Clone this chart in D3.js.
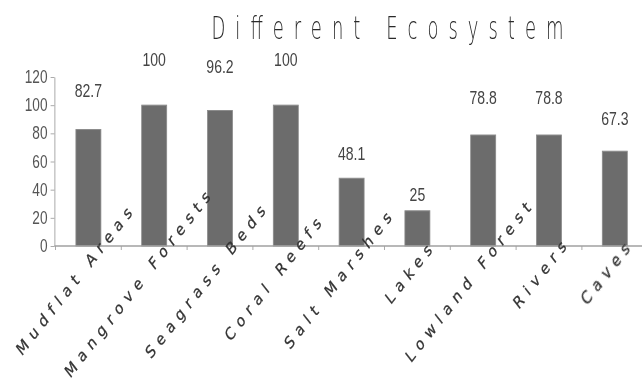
<!DOCTYPE html>
<html>
<head>
<meta charset="utf-8">
<script src="https://cdn.jsdelivr.net/npm/d3@7"></script>
<style>
  html, body { margin: 0; padding: 0; background: #fff; }
  svg { display: block; }
</style>
</head>
<body>
<svg id="chart" width="642" height="387"></svg>
<script>
// Ecosystem categories and their values
const categories = ["Mudflat Areas", "Mangrove Forests", "Seagrass Beds", "Coral Reefs",
  "Salt Marshes", "Lakes", "Lowland Forest", "Rivers", "Caves"];
const values = [82.7, 100, 96.2, 100, 48.1, 25, 78.8, 78.8, 67.3];
const yTicks = [0, 20, 40, 60, 80, 100, 120];
const title = "Different Ecosystem";

// The chart is drawn in a wider frame, then squeezed horizontally
const sx = 0.78;
const W = 642, H = 387;
const vx = v => v / sx;

const svg = d3.select("#chart");
const defs = svg.append("defs");
defs.append("filter").attr("id", "soft")
  .attr("x", "-5%").attr("y", "-5%").attr("width", "110%").attr("height", "110%")
  .append("feGaussianBlur").attr("stdDeviation", 0.6);

const g = svg.append("g")
  .attr("filter", "url(#soft)")
  .append("g")
  .attr("transform", `scale(${sx},1)`);

const y = d3.scaleLinear().domain([0, 120]).range([246, 77]);
const x = d3.scaleBand().domain(categories)
  .range([vx(55.5), vx(647.7)])
  .paddingInner(0.62).paddingOuter(0.31);
const step = x.step();

// Bars
g.append("g").selectAll("rect").data(values).join("rect")
  .attr("x", (d, i) => x(categories[i]))
  .attr("y", d => y(d))
  .attr("width", x.bandwidth())
  .attr("height", d => y(0) - y(d))
  .attr("fill", "#6c6c6c")
  .attr("stroke", "#8c8c8c")
  .attr("stroke-width", 1);

// Y axis
const yAxis = g.append("g")
  .attr("transform", `translate(${vx(54.5)},0)`)
  .call(d3.axisLeft(y).tickValues(yTicks).tickSize(5).tickPadding(4).tickSizeOuter(0));
yAxis.select(".domain").attr("stroke", "#a0a0a0");
yAxis.selectAll(".tick line").attr("stroke", "#a0a0a0");
yAxis.selectAll(".tick text")
  .attr("font-family", "'Liberation Sans', Arial, sans-serif")
  .attr("font-size", 17.5)
  .attr("fill", "#555");

// X axis line and ticks at band boundaries
g.append("line")
  .attr("x1", vx(54.5)).attr("x2", vx(W))
  .attr("y1", y(0)).attr("y2", y(0))
  .attr("stroke", "#a0a0a0").attr("stroke-width", 1.5);
g.append("g").selectAll("line").data(categories).join("line")
  .attr("x1", d => x(d) - step * x.paddingInner() / 2)
  .attr("x2", d => x(d) - step * x.paddingInner() / 2)
  .attr("y1", y(0)).attr("y2", y(0) + 4)
  .attr("stroke", "#a0a0a0");

// Value labels above bars
g.append("g").selectAll("text").data(values).join("text")
  .attr("x", (d, i) => x(categories[i]) + x.bandwidth() / 2)
  .attr("y", d => y(d * 1.275))
  .attr("text-anchor", "middle")
  .attr("font-family", "'Liberation Sans', Arial, sans-serif")
  .attr("font-size", 18)
  .attr("fill", "#444")
  .text(d => d);

// Rotated category labels with wide letter spacing
const ly = y(0) + 25;
const lab = g.append("g").selectAll("text").data(categories).join("text")
  .attr("text-anchor", "middle")
  .attr("font-family", "'DejaVu Sans', sans-serif")
  .attr("font-size", 17)
  .attr("letter-spacing", 7)
  .attr("fill", "#333")
  .attr("stroke", "#333")
  .attr("stroke-width", 0.3)
  .text(d => d);
lab.each(function(d) {
  const L = this.getComputedTextLength();
  const cx = x(d) + x.bandwidth() / 2;
  this.setAttribute("transform",
    `translate(${cx},${ly}) rotate(-45) translate(${-0.08 * L},0)`);
});

// Title, set in narrow tall letters spread across its width
const tsx = 0.72;
g.append("text")
  .attr("transform", `translate(${vx(387.5)},39) scale(${tsx},1)`)
  .attr("text-anchor", "middle")
  .attr("font-family", "'DejaVu Sans', sans-serif")
  .attr("font-weight", 200)
  .attr("font-size", 32)
  .attr("fill", "#2a2a2a")
  .attr("textLength", vx(352) / tsx)
  .attr("lengthAdjust", "spacing")
  .text(title);
</script>
</body>
</html>
